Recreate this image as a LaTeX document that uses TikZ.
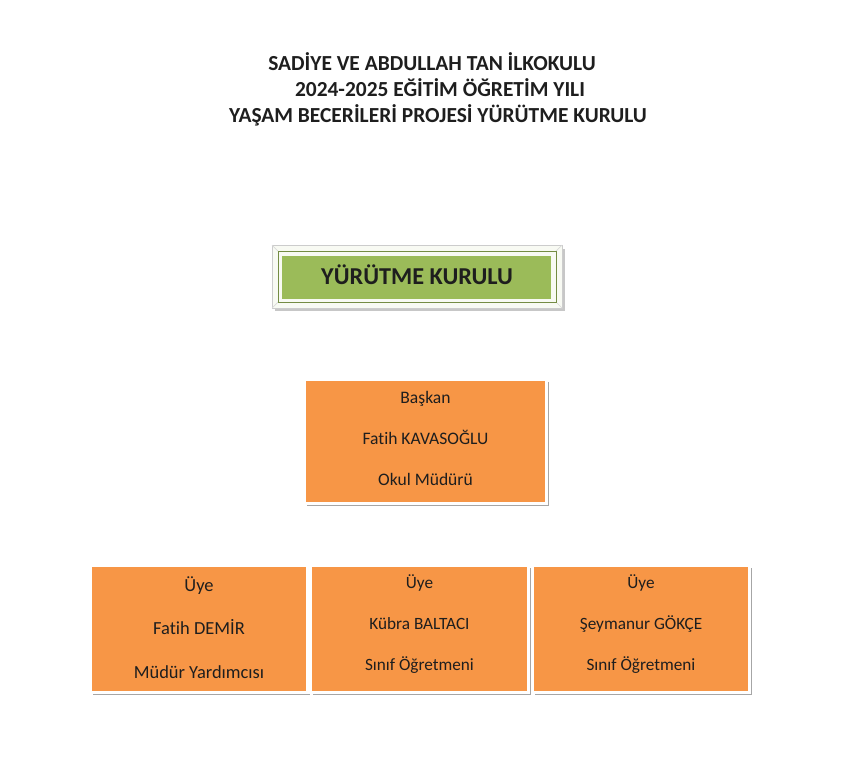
\documentclass[tikz,border=0pt]{standalone}
\usepackage{fontspec}
\setmainfont{Carlito}[Ligatures=NoCommon]
\usetikzlibrary{shadows}
\definecolor{kurulgreen}{HTML}{9BBB59}
\definecolor{uyeorange}{HTML}{F79646}
\definecolor{yazi}{HTML}{1E1E1E}
\tikzset{
  uyebox/.style={rectangle, fill=uyeorange, draw=white, line width=1.7pt, inner sep=0pt,
    drop shadow={shadow xshift=1.3pt, shadow yshift=-1.4pt, fill=black, opacity=0.35}},
  uyetext/.style={align=center, text=yazi},
  baslik/.style={anchor=base, font=\bfseries\fontsize{12.2}{14}\selectfont, text=yazi}
}
\begin{document}
\begin{tikzpicture}[x=0.02cm, y=-0.02cm]
\useasboundingbox[fill=white] (0,0) rectangle (848,768);
% baslik
\node[baslik] (okul) at (432,70) {SADİYE VE ABDULLAH TAN İLKOKULU};
\node[baslik] (yil) at (440,96) {2024-2025 EĞİTİM ÖĞRETİM YILI};
\node[baslik] (proje) at (438,122) {YAŞAM BECERİLERİ PROJESİ YÜRÜTME KURULU};
% yurutme kurulu
\fill[black!22] (275,249) rectangle (565,311);
\draw[gray!40, fill=kurulgreen!7!white] (272,245) rectangle (562,308);
\draw[gray!30] (272,245) -- (278,251) (562,245) -- (556,251) (272,308) -- (278,302) (562,308) -- (556,302);
\draw[kurulgreen!75!black, line width=0.5pt] (278,251) rectangle (556,302);
\node[fill=kurulgreen, minimum width=5.38cm, minimum height=0.86cm, inner sep=0pt] (kurul) at (416.5,277.5) {};
\node[anchor=base, text=yazi, font=\bfseries\fontsize{13.8}{16}\selectfont] (kurul-yazi) at (417,284.5) {YÜRÜTME KURULU};
% baskan
\node[uyebox, minimum width=4.84cm, minimum height=2.48cm] (baskan) at (425.5,441.5) {};
\node[uyetext, font=\fontsize{10}{23.3}\selectfont] (baskan-yazi) at ([yshift=1.5pt]baskan.center) {Başkan\\Fatih KAVASOĞLU\\Okul Müdürü};
% uyeler
\node[uyebox, minimum width=4.34cm, minimum height=2.54cm] (demir) at (199,629) {};
\node[uyebox, minimum width=4.36cm, minimum height=2.54cm] (baltaci) at (419.5,629) {};
\node[uyebox, minimum width=4.34cm, minimum height=2.54cm] (gokce) at (641,629) {};
\node[uyetext, font=\fontsize{10.5}{25}\selectfont] (demir-yazi) at ([yshift=0.8pt]demir.center) {Üye\\Fatih DEMİR\\Müdür Yardımcısı};
\node[uyetext, font=\fontsize{9.8}{23.3}\selectfont] (baltaci-yazi) at ([yshift=3pt]baltaci.center) {Üye\\Kübra BALTACI\\Sınıf Öğretmeni};
\node[uyetext, font=\fontsize{9.8}{23.3}\selectfont] (gokce-yazi) at ([yshift=3pt]gokce.center) {Üye\\Şeymanur GÖKÇE\\Sınıf Öğretmeni};
\end{tikzpicture}
\end{document}
